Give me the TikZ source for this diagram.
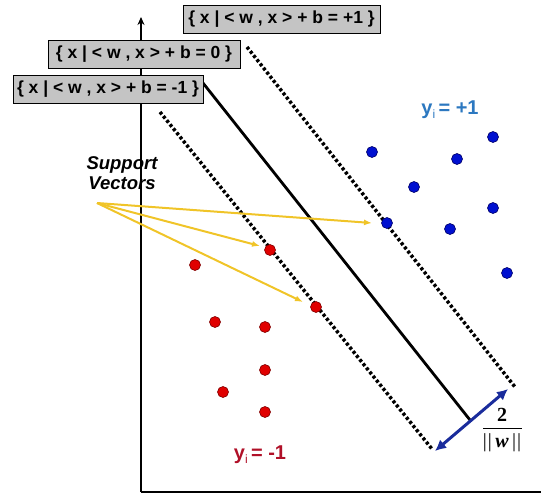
\documentclass[tikz,border=0pt]{standalone}
\usepackage{fontspec}
\setmainfont{Liberation Sans}
\newfontfamily\serifb{Liberation Serif}
\usetikzlibrary{arrows.meta}
\definecolor{boxgray}{HTML}{C4C4C4}
\definecolor{svyellow}{HTML}{F0C428}
\definecolor{ptred}{HTML}{E00000}
\definecolor{ptblue}{HTML}{0010D0}
\definecolor{arrblue}{HTML}{1A2C9C}
\definecolor{lblblue}{HTML}{2C78C0}
\definecolor{lblred}{HTML}{B01028}
\begin{document}
\begin{tikzpicture}[x=1pt,y=-1pt,
  eqbox/.style={draw=black,line width=1pt,fill=boxgray,minimum height=28pt,inner sep=0pt,
     font=\fontsize{17.5}{19}\selectfont\bfseries},
  margin/.style={line width=3.5pt,dash pattern=on 3pt off 2.3pt},
  redpt/.style={circle,fill=ptred,draw=red!50!black,line width=0.6pt,minimum size=11pt,inner sep=0pt},
  bluept/.style={circle,fill=ptblue,draw=blue!40!black,line width=0.6pt,minimum size=11pt,inner sep=0pt},
  svarrow/.style={draw=svyellow,line width=2pt,-{Latex[length=8pt,width=6pt]}},
  fracpart/.style={font=\fontsize{20}{22}\selectfont\serifb\bfseries,inner sep=0pt},
]
\useasboundingbox (0,0) rectangle (541,498);
% axes
\coordinate (O) at (141,492);
\coordinate (ytop) at (141,17);
\coordinate (xend) at (541,492);
\draw[line width=2pt,-{Stealth[length=8pt,width=7pt]}] (O) -- (ytop);
\draw[line width=2.2pt] (O) -- (xend);
% hyperplanes
\coordinate (s1) at (203,83);  \coordinate (s2) at (470,420);
\coordinate (u1) at (247,47);  \coordinate (u2) at (515,387);
\coordinate (l1) at (160,112); \coordinate (l2) at (432,449);
\draw[line width=2.8pt] (s1) -- (s2);
\draw[margin] (u1) -- (u2);
\draw[margin] (l1) -- (l2);
% margin arrow
\coordinate (m1) at (435,451); \coordinate (m2) at (508,389);
\draw[draw=arrblue,line width=3pt,{Latex[length=11pt,width=11pt]}-{Latex[length=11pt,width=11pt]}] (m1) -- (m2);
\node[fracpart] (num) at (502,415) {2};
\coordinate (fb1) at (483,428); \coordinate (fb2) at (522,428);
\draw[line width=0.8pt] (fb1) -- (fb2);
\node[fracpart] (den) at (502,443) {\mdseries|\kern1pt|\,\bfseries\itshape w\,\mdseries\upshape|\kern1pt|};
% boxes
\node[eqbox,minimum width=197pt] (bp) at (281.5,19) {\{ x | < w , x > + b = +1 \}};
\node[eqbox,minimum width=192pt] (b0) at (144,54) {\{ x | < w , x > + b = 0 \}};
\node[eqbox,minimum width=190pt] (bm) at (108,89) {\{ x | < w , x > + b = -1 \}};
% points
\foreach \n/\x/\y in {r1/270/250,r2/195/265,r3/316/307,r4/215/322,r5/265/327,r6/265/370,r7/223/392,r8/265/412}
  \node[redpt] (\n) at (\x,\y) {};
\foreach \n/\x/\y in {q1/372/152,q2/493/137,q3/457/159,q4/414/187,q5/493/208,q6/387/223,q7/450/229,q8/507/273}
  \node[bluept] (\n) at (\x,\y) {};
% labels
\node[font=\fontsize{18.5}{20}\selectfont\bfseries\itshape,align=center] (sv) at (122,173) {Support\\Vectors};
\coordinate (svo) at (97,203);
\draw[svarrow] (svo) -- (372,223);
\draw[svarrow] (svo) -- (260,246);
\draw[svarrow] (svo) -- (303,302);
\node[text=lblblue,font=\fontsize{20}{22}\selectfont\bfseries] (yp) at (450,110) {y\raisebox{-4pt}{\fontsize{12}{12}\selectfont\mdseries i}\,= +1};
\node[text=lblred,font=\fontsize{20}{22}\selectfont\bfseries] (ym) at (260,455) {y\raisebox{-4pt}{\fontsize{12}{12}\selectfont\mdseries i}\,= -1};
\end{tikzpicture}
\end{document}
